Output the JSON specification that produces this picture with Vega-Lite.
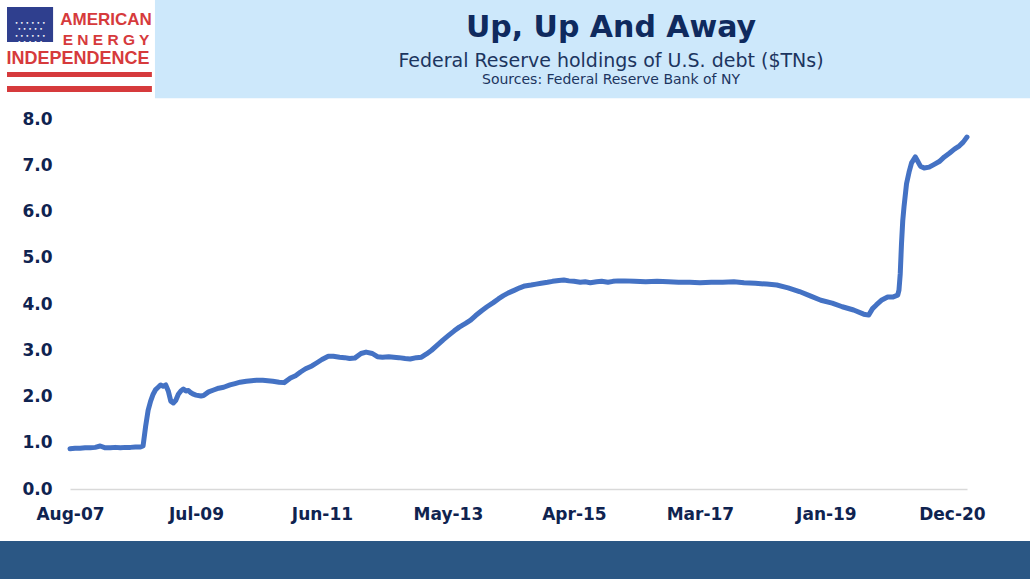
{
  "$schema": "https://vega.github.io/schema/vega-lite/v6.json",
  "width": 897,
  "height": 370,
  "autosize": {"type": "none"},
  "padding": {"left": 70, "top": 119, "right": 63, "bottom": 90},
  "background": "white",
  "config": {"view": {"stroke": null}, "font": "DejaVu Sans"},
  "resolve": {"axis": {"x": "independent", "y": "independent"}},
  "data": {
    "format": {"parse": {"date": "date:'%Y-%m-%d'"}},
    "values": [
      {"date": "2007-08-01", "value": 0.87},
      {"date": "2007-08-29", "value": 0.88},
      {"date": "2007-09-26", "value": 0.88},
      {"date": "2007-10-24", "value": 0.89},
      {"date": "2007-11-21", "value": 0.89},
      {"date": "2007-12-19", "value": 0.9},
      {"date": "2008-01-16", "value": 0.93},
      {"date": "2008-02-13", "value": 0.89},
      {"date": "2008-03-12", "value": 0.89},
      {"date": "2008-04-09", "value": 0.9},
      {"date": "2008-05-07", "value": 0.89},
      {"date": "2008-06-04", "value": 0.9},
      {"date": "2008-07-02", "value": 0.9},
      {"date": "2008-07-30", "value": 0.91},
      {"date": "2008-08-27", "value": 0.91},
      {"date": "2008-09-10", "value": 0.93},
      {"date": "2008-09-24", "value": 1.35},
      {"date": "2008-10-08", "value": 1.7},
      {"date": "2008-10-22", "value": 1.9},
      {"date": "2008-11-05", "value": 2.05},
      {"date": "2008-11-19", "value": 2.15},
      {"date": "2008-12-03", "value": 2.2},
      {"date": "2008-12-17", "value": 2.25},
      {"date": "2008-12-31", "value": 2.22},
      {"date": "2009-01-14", "value": 2.25},
      {"date": "2009-01-28", "value": 2.12},
      {"date": "2009-02-11", "value": 1.9},
      {"date": "2009-02-25", "value": 1.86},
      {"date": "2009-03-11", "value": 1.92},
      {"date": "2009-03-25", "value": 2.05},
      {"date": "2009-04-08", "value": 2.12},
      {"date": "2009-04-22", "value": 2.16},
      {"date": "2009-05-06", "value": 2.12},
      {"date": "2009-05-20", "value": 2.13},
      {"date": "2009-06-03", "value": 2.08},
      {"date": "2009-06-17", "value": 2.05},
      {"date": "2009-07-01", "value": 2.03},
      {"date": "2009-07-29", "value": 2.01},
      {"date": "2009-08-12", "value": 2.02},
      {"date": "2009-09-09", "value": 2.1},
      {"date": "2009-10-07", "value": 2.14},
      {"date": "2009-11-04", "value": 2.18},
      {"date": "2009-12-02", "value": 2.2},
      {"date": "2010-01-06", "value": 2.25},
      {"date": "2010-02-03", "value": 2.28},
      {"date": "2010-03-03", "value": 2.31},
      {"date": "2010-04-07", "value": 2.33},
      {"date": "2010-05-05", "value": 2.34},
      {"date": "2010-06-02", "value": 2.35},
      {"date": "2010-07-07", "value": 2.35},
      {"date": "2010-08-04", "value": 2.34},
      {"date": "2010-09-01", "value": 2.33},
      {"date": "2010-10-06", "value": 2.31},
      {"date": "2010-11-03", "value": 2.3},
      {"date": "2010-12-08", "value": 2.4},
      {"date": "2011-01-05", "value": 2.45},
      {"date": "2011-02-02", "value": 2.53},
      {"date": "2011-03-02", "value": 2.6},
      {"date": "2011-04-06", "value": 2.66},
      {"date": "2011-05-04", "value": 2.73},
      {"date": "2011-06-01", "value": 2.8},
      {"date": "2011-07-06", "value": 2.87},
      {"date": "2011-08-03", "value": 2.87},
      {"date": "2011-09-07", "value": 2.85},
      {"date": "2011-10-05", "value": 2.84},
      {"date": "2011-11-02", "value": 2.82},
      {"date": "2011-11-30", "value": 2.83},
      {"date": "2012-01-04", "value": 2.93},
      {"date": "2012-02-01", "value": 2.96},
      {"date": "2012-03-07", "value": 2.93},
      {"date": "2012-04-04", "value": 2.86},
      {"date": "2012-05-02", "value": 2.85},
      {"date": "2012-06-06", "value": 2.86},
      {"date": "2012-07-04", "value": 2.85},
      {"date": "2012-08-01", "value": 2.84},
      {"date": "2012-09-05", "value": 2.82},
      {"date": "2012-10-03", "value": 2.81},
      {"date": "2012-11-07", "value": 2.84},
      {"date": "2012-12-05", "value": 2.85},
      {"date": "2013-01-02", "value": 2.92},
      {"date": "2013-01-30", "value": 3.0},
      {"date": "2013-03-06", "value": 3.12},
      {"date": "2013-04-03", "value": 3.22},
      {"date": "2013-05-01", "value": 3.31},
      {"date": "2013-06-05", "value": 3.42},
      {"date": "2013-07-03", "value": 3.5},
      {"date": "2013-08-07", "value": 3.58},
      {"date": "2013-09-04", "value": 3.65},
      {"date": "2013-10-02", "value": 3.75},
      {"date": "2013-11-06", "value": 3.86},
      {"date": "2013-12-04", "value": 3.94},
      {"date": "2014-01-08", "value": 4.03},
      {"date": "2014-02-05", "value": 4.11},
      {"date": "2014-03-05", "value": 4.18},
      {"date": "2014-04-02", "value": 4.24},
      {"date": "2014-05-07", "value": 4.3},
      {"date": "2014-06-04", "value": 4.35},
      {"date": "2014-07-02", "value": 4.39},
      {"date": "2014-08-06", "value": 4.41},
      {"date": "2014-09-03", "value": 4.43},
      {"date": "2014-10-01", "value": 4.45},
      {"date": "2014-11-05", "value": 4.47},
      {"date": "2014-12-03", "value": 4.49},
      {"date": "2015-01-07", "value": 4.51},
      {"date": "2015-02-04", "value": 4.52},
      {"date": "2015-03-04", "value": 4.5},
      {"date": "2015-04-01", "value": 4.49},
      {"date": "2015-05-06", "value": 4.47},
      {"date": "2015-06-03", "value": 4.48},
      {"date": "2015-07-01", "value": 4.46},
      {"date": "2015-08-05", "value": 4.48},
      {"date": "2015-09-02", "value": 4.49},
      {"date": "2015-10-07", "value": 4.47},
      {"date": "2015-11-04", "value": 4.49},
      {"date": "2015-12-02", "value": 4.5},
      {"date": "2016-01-06", "value": 4.5},
      {"date": "2016-03-02", "value": 4.49},
      {"date": "2016-05-04", "value": 4.48},
      {"date": "2016-07-06", "value": 4.49},
      {"date": "2016-09-07", "value": 4.48},
      {"date": "2016-11-02", "value": 4.47},
      {"date": "2017-01-04", "value": 4.47},
      {"date": "2017-03-01", "value": 4.46},
      {"date": "2017-05-03", "value": 4.47},
      {"date": "2017-07-05", "value": 4.47},
      {"date": "2017-09-06", "value": 4.48},
      {"date": "2017-11-01", "value": 4.46},
      {"date": "2018-01-03", "value": 4.45},
      {"date": "2018-03-07", "value": 4.43},
      {"date": "2018-05-02", "value": 4.41},
      {"date": "2018-07-04", "value": 4.35},
      {"date": "2018-09-05", "value": 4.27},
      {"date": "2018-11-07", "value": 4.17},
      {"date": "2019-01-02", "value": 4.08},
      {"date": "2019-03-06", "value": 4.02},
      {"date": "2019-05-01", "value": 3.94},
      {"date": "2019-07-03", "value": 3.87},
      {"date": "2019-08-28", "value": 3.78},
      {"date": "2019-09-25", "value": 3.76},
      {"date": "2019-10-16", "value": 3.9},
      {"date": "2019-11-06", "value": 3.98},
      {"date": "2019-12-04", "value": 4.08},
      {"date": "2020-01-08", "value": 4.15},
      {"date": "2020-02-05", "value": 4.15},
      {"date": "2020-03-04", "value": 4.19},
      {"date": "2020-03-11", "value": 4.3},
      {"date": "2020-03-18", "value": 4.65},
      {"date": "2020-03-25", "value": 5.3},
      {"date": "2020-04-01", "value": 5.8},
      {"date": "2020-04-08", "value": 6.1},
      {"date": "2020-04-22", "value": 6.6},
      {"date": "2020-05-06", "value": 6.85},
      {"date": "2020-05-20", "value": 7.05},
      {"date": "2020-06-10", "value": 7.18},
      {"date": "2020-06-24", "value": 7.08},
      {"date": "2020-07-08", "value": 6.98},
      {"date": "2020-07-29", "value": 6.94},
      {"date": "2020-08-26", "value": 6.96},
      {"date": "2020-09-23", "value": 7.02},
      {"date": "2020-10-21", "value": 7.08},
      {"date": "2020-11-18", "value": 7.18},
      {"date": "2020-12-16", "value": 7.26},
      {"date": "2021-01-13", "value": 7.35},
      {"date": "2021-02-10", "value": 7.42},
      {"date": "2021-03-03", "value": 7.5},
      {"date": "2021-03-24", "value": 7.61}
    ]
  },
  "layer": [
    {
      "data": {"values": [{}]},
      "mark": {"type": "rect", "color": "#cde8fb"},
      "encoding": {
        "x": {"datum": {"year": 2008, "month": 11, "date": 15}, "type": "temporal", "axis": null},
        "x2": {"datum": {"year": 2022, "month": 6, "date": 1}},
        "y": {"datum": 10.9, "type": "quantitative", "axis": null},
        "y2": {"datum": 8.45}
      }
    },
    {
      "data": {"values": [{}]},
      "mark": {"type": "rect", "color": "#2b5784"},
      "encoding": {
        "x": {"datum": {"year": 2006, "month": 4, "date": 1}, "type": "temporal", "axis": null},
        "x2": {"datum": {"year": 2022, "month": 6, "date": 1}},
        "y": {"datum": -1.124, "type": "quantitative", "axis": null},
        "y2": {"datum": -2.3}
      }
    },
    {
      "data": {"values": [{}]},
      "mark": {"type": "rect", "color": "#2f3f8e"},
      "encoding": {
        "x": {"datum": {"year": 2006, "month": 8, "date": 16}, "type": "temporal", "axis": null},
        "x2": {"datum": {"year": 2007, "month": 4, "date": 29}},
        "y": {"datum": 10.42, "type": "quantitative", "axis": null},
        "y2": {"datum": 9.665}
      }
    },
    {
      "data": {"values": [{}]},
      "mark": {
        "type": "text",
        "color": "white",
        "fontSize": 6,
        "lineHeight": 6.2,
        "align": "center",
        "baseline": "middle",
        "text": ["•  •  •  •  •  •", "  •  •  •  •  •  ", "•  •  •  •  •  •", "  •  •  •  •  •  ", "•  •  •  •  •  •"]
      },
      "encoding": {
        "x": {"datum": {"year": 2006, "month": 12, "date": 22}, "type": "temporal", "axis": null},
        "y": {"datum": 10.07, "type": "quantitative", "axis": null}
      }
    },
    {
      "data": {"values": [{}]},
      "mark": {"type": "rect", "color": "#d63a3c"},
      "encoding": {
        "x": {"datum": {"year": 2006, "month": 8, "date": 16}, "type": "temporal", "axis": null},
        "x2": {"datum": {"year": 2008, "month": 10, "date": 29}},
        "y": {"datum": 9.016, "type": "quantitative", "axis": null},
        "y2": {"datum": 8.908}
      }
    },
    {
      "data": {"values": [{}]},
      "mark": {"type": "rect", "color": "#d63a3c"},
      "encoding": {
        "x": {"datum": {"year": 2006, "month": 8, "date": 16}, "type": "temporal", "axis": null},
        "x2": {"datum": {"year": 2008, "month": 10, "date": 29}},
        "y": {"datum": 8.714, "type": "quantitative", "axis": null},
        "y2": {"datum": 8.584}
      }
    },
    {
      "data": {"values": [{}]},
      "mark": {"type": "text", "text": "AMERICAN", "font": "Liberation Sans", "fontWeight": "bold", "fontSize": 17, "color": "#d63a3c", "align": "center", "baseline": "alphabetic"},
      "encoding": {
        "x": {"datum": {"year": 2008, "month": 2, "date": 17}, "type": "temporal", "axis": null},
        "y": {"datum": 10.032, "type": "quantitative", "axis": null}
      }
    },
    {
      "data": {"values": [{}]},
      "mark": {"type": "text", "text": "E N E R G Y", "font": "Liberation Sans", "fontWeight": "bold", "fontSize": 15.5, "color": "#d63a3c", "align": "center", "baseline": "alphabetic"},
      "encoding": {
        "x": {"datum": {"year": 2008, "month": 2, "date": 17}, "type": "temporal", "axis": null},
        "y": {"datum": 9.6, "type": "quantitative", "axis": null}
      }
    },
    {
      "data": {"values": [{}]},
      "mark": {"type": "text", "text": "INDEPENDENCE", "font": "Liberation Sans", "fontWeight": "bold", "fontSize": 18, "color": "#d63a3c", "align": "center", "baseline": "alphabetic"},
      "encoding": {
        "x": {"datum": {"year": 2007, "month": 9, "date": 14}, "type": "temporal", "axis": null},
        "y": {"datum": 9.189, "type": "quantitative", "axis": null}
      }
    },
    {
      "data": {"values": [{}]},
      "mark": {"type": "text", "text": "Up, Up And Away", "fontWeight": "bold", "fontSize": 30, "color": "#0f2a5e", "align": "center", "baseline": "alphabetic"},
      "encoding": {
        "x": {"datum": {"year": 2015, "month": 10, "date": 24}, "type": "temporal", "axis": null},
        "y": {"datum": 9.773, "type": "quantitative", "axis": null}
      }
    },
    {
      "data": {"values": [{}]},
      "mark": {"type": "text", "text": "Federal Reserve holdings of U.S. debt ($TNs)", "fontSize": 19, "color": "#1c355f", "align": "center", "baseline": "alphabetic"},
      "encoding": {
        "x": {"datum": {"year": 2015, "month": 10, "date": 24}, "type": "temporal", "axis": null},
        "y": {"datum": 9.124, "type": "quantitative", "axis": null}
      }
    },
    {
      "data": {"values": [{}]},
      "mark": {"type": "text", "text": "Sources: Federal Reserve Bank of NY", "fontSize": 14, "color": "#1c355f", "align": "center", "baseline": "alphabetic"},
      "encoding": {
        "x": {"datum": {"year": 2015, "month": 10, "date": 24}, "type": "temporal", "axis": null},
        "y": {"datum": 8.757, "type": "quantitative", "axis": null}
      }
    },
    {
      "mark": {"type": "line", "color": "#4472c4", "strokeWidth": 5, "strokeJoin": "round", "strokeCap": "round"},
      "encoding": {
        "x": {
          "field": "date",
          "type": "temporal",
          "scale": {"domain": [{"year": 2007, "month": 8, "date": 1}, {"year": 2021, "month": 3, "date": 24}]},
          "axis": {
            "title": null,
            "format": "%b-%y",
            "values": [
              {"year": 2007, "month": 8, "date": 1},
              {"year": 2009, "month": 7, "date": 1},
              {"year": 2011, "month": 6, "date": 1},
              {"year": 2013, "month": 5, "date": 1},
              {"year": 2015, "month": 4, "date": 1},
              {"year": 2017, "month": 3, "date": 1},
              {"year": 2019, "month": 1, "date": 30},
              {"year": 2020, "month": 12, "date": 30}
            ],
            "grid": false,
            "ticks": false,
            "domainColor": "#d9d9d9",
            "domainWidth": 1.5,
            "labelFont": "DejaVu Sans",
            "labelFontSize": 17,
            "labelFontWeight": "bold",
            "labelColor": "#0f2350",
            "labelPadding": 17,
            "labelFlush": false,
            "labelOverlap": false
          }
        },
        "y": {
          "field": "value",
          "type": "quantitative",
          "scale": {"domain": [0, 8]},
          "axis": {
            "title": null,
            "values": [0, 1, 2, 3, 4, 5, 6, 7, 8],
            "format": ".1f",
            "grid": false,
            "ticks": false,
            "domain": false,
            "labelFont": "DejaVu Sans",
            "labelFontSize": 17,
            "labelFontWeight": "bold",
            "labelColor": "#0f2350",
            "labelPadding": 18
          }
        }
      }
    }
  ]
}
